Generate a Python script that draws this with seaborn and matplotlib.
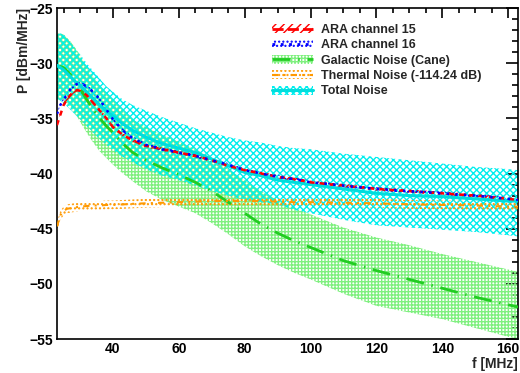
import numpy as np
import pandas as pd
import matplotlib
matplotlib.use("Agg")
import matplotlib.pyplot as plt
import seaborn as sns
from matplotlib.patches import Patch
from matplotlib.lines import Line2D
from matplotlib.ticker import MultipleLocator

# ---------------------------------------------------------
# data
# ---------------------------------------------------------
freq = [23, 24, 25, 26, 27, 28, 29, 30, 32, 34, 36, 38, 40, 43, 46, 50, 55,
        60, 65, 70, 75, 80, 85, 90, 95, 100, 110, 120, 130, 140, 150, 160, 163]

ara15 = [-35.6, -34.7, -33.8, -33.3, -32.9, -32.6, -32.45, -32.5, -32.9, -33.6,
         -34.3, -35.0, -35.8, -36.5, -37.0, -37.5, -37.8, -38.1, -38.4, -38.8,
         -39.3, -39.7, -40.0, -40.3, -40.5, -40.8, -41.1, -41.4, -41.6, -41.8,
         -42.0, -42.3, -42.4]
ara16 = [-34.6, -33.8, -33.3, -32.9, -32.4, -32.1, -31.9, -31.8, -32.1, -32.6,
         -33.3, -34.2, -35.1, -36.1, -36.8, -37.4, -37.8, -38.1, -38.4, -38.8,
         -39.2, -39.7, -40.0, -40.3, -40.5, -40.8, -41.1, -41.4, -41.6, -41.8,
         -42.0, -42.3, -42.4]
ara_err = 0.15

galactic = [-30.3, -30.3, -30.4, -30.7, -31.0, -31.4, -31.8, -32.3, -33.3, -34.2,
            -35.0, -35.7, -36.3, -37.3, -38.1, -38.8, -39.5, -40.1, -40.8, -41.6,
            -42.6, -43.6, -44.6, -45.4, -46.1, -46.7, -47.9, -48.8, -49.6, -50.4,
            -51.2, -51.9, -52.1]
galactic_hi = [-27.3, -27.3, -27.4, -27.7, -28.0, -28.4, -28.8, -29.3, -30.3, -31.2,
               -32.0, -32.7, -33.3, -34.3, -35.1, -35.8, -36.5, -37.1, -37.8, -38.6,
               -39.6, -40.6, -41.6, -42.4, -43.1, -43.7, -44.9, -45.8, -46.5, -47.3,
               -48.0, -48.7, -48.9]
galactic_lo = [-33.3, -33.3, -33.4, -33.7, -34.0, -34.4, -34.8, -35.3, -36.3, -37.2,
               -38.0, -38.6, -39.2, -40.0, -40.7, -41.6, -42.4, -43.0, -43.6, -44.5,
               -45.5, -46.6, -47.5, -48.3, -49.0, -49.6, -50.9, -52.0, -52.6, -53.2,
               -54.0, -54.8, -55.0]

thermal = [-44.8, -43.8, -43.4, -43.2, -43.15, -43.1, -43.05, -43.0, -42.95, -42.9,
           -42.9, -42.85, -42.85, -42.8, -42.75, -42.7, -42.65, -42.6, -42.55, -42.5,
           -42.5, -42.5, -42.5, -42.55, -42.6, -42.6, -42.65, -42.7, -42.8, -42.85,
           -42.9, -43.0, -43.0]
thermal_err = 0.4

total = [-30.2, -30.4, -30.6, -30.9, -31.2, -31.5, -31.8, -32.0, -32.6, -33.2,
         -33.8, -34.3, -34.8, -35.5, -36.1, -36.7, -37.3, -37.7, -38.1, -38.7,
         -39.3, -39.9, -40.2, -40.6, -40.8, -41.0, -41.4, -41.8, -42.0, -42.1,
         -42.3, -42.5, -42.5]
total_hi = [-27.4, -27.3, -27.4, -27.7, -28.1, -28.5, -28.9, -29.2, -30.0, -30.7,
            -31.4, -32.1, -32.6, -33.3, -33.8, -34.3, -34.9, -35.4, -35.9, -36.3,
            -36.7, -37.0, -37.2, -37.5, -37.7, -37.8, -38.2, -38.5, -38.8, -39.1,
            -39.4, -39.6, -39.7]
total_lo = [-33.2, -33.4, -33.6, -33.9, -34.2, -34.5, -34.8, -35.1, -35.7, -36.3,
            -36.9, -37.4, -37.9, -38.5, -39.0, -39.6, -40.2, -40.6, -41.1, -41.6,
            -42.0, -42.4, -42.6, -42.8, -43.3, -43.6, -44.2, -44.7, -44.9, -45.1,
            -45.3, -45.6, -45.7]

labels = ["ARA channel 15", "ARA channel 16", "Galactic Noise (Cane)",
          "Thermal Noise (-114.24 dB)", "Total Noise"]

df = pd.DataFrame({"f": freq, "ara15": ara15, "ara16": ara16, "gal": galactic,
                   "gal_hi": galactic_hi, "gal_lo": galactic_lo, "th": thermal,
                   "tot": total, "tot_hi": total_hi, "tot_lo": total_lo})

# ---------------------------------------------------------
# style (ROOT-like)
# ---------------------------------------------------------
sns.set_style("white")
plt.rcParams['font.family'] = ['Liberation Sans', 'DejaVu Sans']
plt.rcParams['font.weight'] = 'bold'
plt.rcParams['hatch.linewidth'] = 1.0

RED, BLUE, GREEN, ORANGE, CYAN = "#ff0000", "#0000ff", "#22cc22", "#ff9900", "#00dddd"
GREEN_FILL, CYAN_FILL = "#80f080", "#00eeee"

fig = plt.figure(figsize=(5.2, 3.73), dpi=100)
ax = fig.add_axes([57 / 520, 34 / 373, 461 / 520, 331 / 373])

# bands
ax.fill_between(df.f, df.gal_lo, df.gal_hi, facecolor="none", edgecolor=GREEN_FILL,
                hatch="+++++", linewidth=0, zorder=1)
ax.fill_between(df.f, df.tot_lo, df.tot_hi, facecolor="none", edgecolor=CYAN_FILL,
                hatch="xxxxx", linewidth=0, zorder=2)
ax.fill_between(df.f, df.th - thermal_err, df.th + thermal_err, facecolor="none",
                edgecolor=ORANGE, hatch="....", linewidth=0, zorder=3)
ax.fill_between(df.f, df.ara15 - ara_err, df.ara15 + ara_err, facecolor="none",
                edgecolor=RED, hatch="////", linewidth=0, zorder=3)
ax.fill_between(df.f, df.ara16 - ara_err, df.ara16 + ara_err, facecolor="none",
                edgecolor=BLUE, hatch="....", linewidth=0, zorder=3)

# lines
sns.lineplot(data=df, x="f", y="gal", ax=ax, color=GREEN, lw=2, zorder=4)
ax.lines[-1].set_dashes((6.5, 2.8, 0.5, 2.8))
sns.lineplot(data=df, x="f", y="th", ax=ax, color=ORANGE, lw=1.5, zorder=4)
ax.lines[-1].set_dashes((3, 2.5, 1, 2.5))
sns.lineplot(data=df, x="f", y="tot", ax=ax, color=CYAN, lw=2.2, zorder=5)
sns.lineplot(data=df, x="f", y="ara15", ax=ax, color=RED, lw=1.8, zorder=6)
ax.lines[-1].set_dashes((2, 2))
sns.lineplot(data=df, x="f", y="ara16", ax=ax, color=BLUE, lw=1.8, zorder=6)
ax.lines[-1].set_dashes((1, 2.5))

ax.set_xlim(23, 163)
ax.set_ylim(-55, -25)
ax.xaxis.set_major_locator(MultipleLocator(20))
ax.xaxis.set_minor_locator(MultipleLocator(5))
ax.yaxis.set_major_locator(MultipleLocator(5))
ax.yaxis.set_minor_locator(MultipleLocator(1))
ax.tick_params(which="both", direction="in", top=True, right=True,
               labelsize=10, width=1.2, colors="black")
ax.tick_params(axis="x", which="major", length=7, pad=2)
ax.tick_params(axis="x", which="minor", length=3.5)
ax.tick_params(axis="y", which="major", length=9, pad=3)
ax.tick_params(axis="y", which="minor", length=4.5)
for s in ax.spines.values():
    s.set_linewidth(1.2)
    s.set_color("black")

ax.set_xlabel("f [MHz]", loc="right", fontsize=10, fontweight="bold", labelpad=1)
ax.set_ylabel("P [dBm/MHz]", loc="top", fontsize=10, fontweight="bold", labelpad=-1)

# legend: hatched box with line on top
handles = [
    (Patch(facecolor="none", edgecolor=RED, hatch="////", lw=0),
     Line2D([], [], color=RED, lw=2, dashes=(4, 1.5))),
    (Patch(facecolor="none", edgecolor=BLUE, hatch="....", lw=0),
     Line2D([], [], color=BLUE, lw=2, dashes=(1, 2))),
    (Patch(facecolor="none", edgecolor=GREEN_FILL, hatch="+++++", lw=0),
     Line2D([], [], color=GREEN, lw=2, dashes=(6.5, 2.8, 0.5, 2.8))),
    (Patch(facecolor="none", edgecolor=ORANGE, hatch="....", lw=0),
     Line2D([], [], color=ORANGE, lw=1.5, dashes=(3, 2.5, 1, 2.5))),
    (Patch(facecolor="none", edgecolor=CYAN_FILL, hatch="xxxxx", lw=0),
     Line2D([], [], color=CYAN, lw=2.2)),
]
leg = ax.legend(handles, labels, loc="upper left", bbox_to_anchor=(272 / 520, 1 - 24 / 373),
                bbox_transform=fig.transFigure, frameon=False, fontsize=9,
                handlelength=3.3, handletextpad=0.65, labelspacing=0.27, borderpad=0,
                borderaxespad=0)
for t in leg.get_texts():
    t.set_fontweight("bold")

fig.savefig("out.png", dpi=100)
